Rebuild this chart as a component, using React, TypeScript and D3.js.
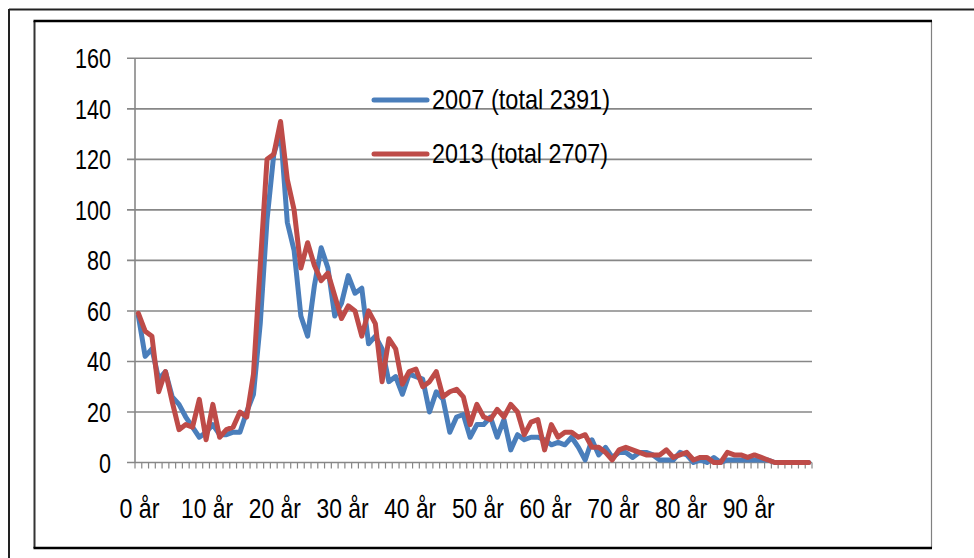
import React from "react";
import * as d3 from "d3";

const ages: number[] = d3.range(100);

const series2007: number[] = [
  58, 42, 45, 33, 36, 26, 23, 18, 14, 10,
  12, 15, 11, 11, 12, 12, 20, 27, 55, 96,
  122, 131, 95, 84, 58, 50, 70, 85, 77, 58,
  63, 74, 67, 69, 47, 50, 45, 32, 34, 27,
  35, 34, 33, 20, 28, 25, 12, 18, 19, 10,
  15, 15, 18, 10, 17, 5, 11, 9, 10, 10,
  9, 7, 8, 7, 10, 6, 1, 9, 3, 6,
  2, 4, 4, 2, 4, 4, 3, 1, 1, 1,
  4, 3, 0, 1, 0, 2, 0, 1, 1, 1,
  1, 1, 1, 1, 0, 0, 0, 0, 0, 0,
];

const series2013: number[] = [
  59, 52, 50, 28, 36, 24, 13, 15, 14, 25,
  9, 23, 10, 13, 14, 20, 18, 35, 78, 120,
  122, 135, 112, 100, 77, 87, 78, 72, 75, 66,
  57, 62, 60, 50, 60, 55, 32, 49, 45, 31,
  36, 37, 30, 32, 36, 26, 28, 29, 26, 15,
  23, 18, 17, 21, 18, 23, 20, 11, 16, 17,
  5, 15, 10, 12, 12, 10, 11, 6, 6, 4,
  1, 5, 6, 5, 4, 3, 3, 3, 5, 2,
  3, 4, 1, 2, 2, 0, 0, 4, 3, 3,
  2, 3, 2, 1, 0, 0, 0, 0, 0, 0,
];

const seriesNames: string[] = ["2007 (total 2391)", "2013 (total 2707)"];
const seriesColors: string[] = ["#4A7EBB", "#BE4B48"];

const yTicks: number[] = [0, 20, 40, 60, 80, 100, 120, 140, 160];
const xTickLabels: string[] = ["0 år", "10 år", "20 år", "30 år", "40 år", "50 år", "60 år", "70 år", "80 år", "90 år"];
const xTickAges: number[] = [0, 10, 20, 30, 40, 50, 60, 70, 80, 90];

const FONT = "'Liberation Sans', Arial, sans-serif";

export default function App() {
  const W = 974;
  const H = 558;
  const plotLeft = 135;
  const plotRight = 812;
  const plotTop = 58.3;
  const plotBottom = 462.5;

  const x = d3.scaleBand<number>().domain(ages).range([plotLeft, plotRight]).padding(0);
  const cx = (a: number) => (x(a) as number) + x.bandwidth() / 2;
  const y = d3.scaleLinear().domain([0, 160]).range([plotBottom, plotTop]);

  const line = d3
    .line<number>()
    .x((_, i) => cx(ages[i]))
    .y((v) => y(v));

  const allSeries = [series2007, series2013];
  const gridColor = "#878787";

  const digitW = 12;
  const FS = 28;

  return (
    <svg
      width={W}
      height={H}
      style={{ position: "absolute", left: 0, top: 0, background: "#fff" }}
    >
      <rect x={0} y={0} width={W} height={H} fill="#fff" />
      {/* outer frame */}
      <line x1={9} y1={9.5} x2={W} y2={9.5} stroke="#222" strokeWidth={2} />
      <line x1={9} y1={9} x2={9} y2={H} stroke="#222" strokeWidth={2} />
      {/* inner frame */}
      <line x1={931.5} y1={21} x2={931.5} y2={548} stroke="#808080" strokeWidth={1.2} />
      <line x1={34.5} y1={21} x2={34.5} y2={548} stroke="#333" strokeWidth={2} />
      <line x1={33.5} y1={21} x2={932} y2={21} stroke="#000" strokeWidth={2.5} />
      <line x1={33.5} y1={548} x2={932} y2={548} stroke="#000" strokeWidth={2.5} />

      {/* gridlines + y ticks */}
      {yTicks.map((t) => (
        <line
          key={"g" + t}
          x1={127}
          x2={plotRight}
          y1={y(t)}
          y2={y(t)}
          stroke={gridColor}
          strokeWidth={1.6}
        />
      ))}
      {/* y axis */}
      <line x1={plotLeft} x2={plotLeft} y1={plotTop} y2={plotBottom} stroke={gridColor} strokeWidth={1.6} />
      {/* x minor ticks */}
      {ages.concat([ages.length]).map((a) => {
        const xx = plotLeft + a * x.bandwidth();
        return (
          <line key={"t" + a} x1={xx} x2={xx} y1={plotBottom} y2={plotBottom + 6} stroke={gridColor} strokeWidth={1.2} />
        );
      })}

      {/* y labels */}
      {yTicks.map((t) => {
        const s = String(t);
        const len = s.length * digitW;
        return (
          <text
            key={"yl" + t}
            x={111 - len}
            y={y(t) + 10}
            fontFamily={FONT}
            fontSize={FS}
            textLength={len}
            lengthAdjust="spacingAndGlyphs"
            fill="#000"
          >
            {s}
          </text>
        );
      })}

      {/* x labels */}
      {xTickLabels.map((lab, i) => {
        const len = lab.length === 4 ? 40 : 52;
        return (
          <text
            key={"xl" + i}
            x={cx(xTickAges[i]) - len / 2 + 1}
            y={518}
            fontFamily={FONT}
            fontSize={FS}
            textLength={len}
            lengthAdjust="spacingAndGlyphs"
            fill="#000"
          >
            {lab}
          </text>
        );
      })}

      {/* series */}
      {allSeries.map((s, k) => (
        <path
          key={"s" + k}
          d={line(s) || ""}
          fill="none"
          stroke={seriesColors[k]}
          strokeWidth={5}
          strokeLinejoin="round"
          strokeLinecap="round"
        />
      ))}

      {/* legend */}
      {seriesNames.map((name, k) => {
        const ly = k === 0 ? 100 : 154;
        return (
          <g key={"lg" + k}>
            <line x1={374} x2={427} y1={ly} y2={ly} stroke={seriesColors[k]} strokeWidth={5} strokeLinecap="round" />
            <text
              x={432}
              y={ly + 9}
              fontFamily={FONT}
              fontSize={FS}
              textLength={k === 0 ? 178 : 176}
              lengthAdjust="spacingAndGlyphs"
              fill="#000"
            >
              {name}
            </text>
          </g>
        );
      })}
    </svg>
  );
}
